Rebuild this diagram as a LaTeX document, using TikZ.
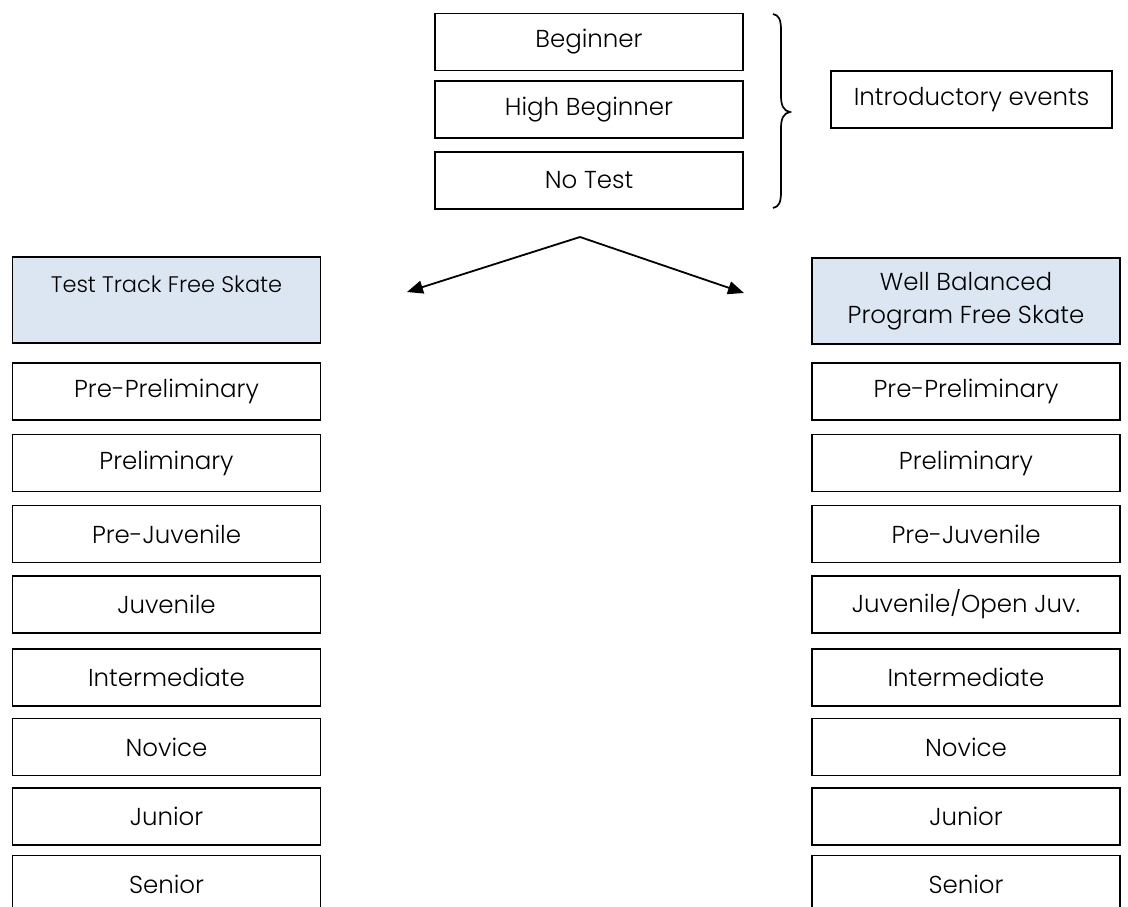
\documentclass[tikz,border=0pt]{standalone}
\usepackage{fontspec}
\setmainfont{Poppins}[UprightFont={* Light}]
\usetikzlibrary{arrows.meta}
\definecolor{hdrfill}{HTML}{DCE6F2}
\tikzset{
  box/.style={draw=black, line width=1.6pt, minimum width=308pt, minimum height=57pt, inner sep=0pt, font=\fontsize{24.5}{29}\selectfont},
  hdr/.style={box, fill=hdrfill, minimum height=86pt},
  arr/.style={line width=1.8pt, -{Triangle[length=16pt,width=13pt]}}
}
\begin{document}
\begin{tikzpicture}[x=1pt,y=-1pt]
\clip (0,0) rectangle (1128,907);
\useasboundingbox (0,0) rectangle (1128,907);
% introductory
\node[box] (beg) at (589,42) {Beginner};
\node[box] (hbeg) at (589,109.5) {High Beginner};
\node[box] (nt) at (589,180.5) {No Test};
\node[box, minimum width=281pt] (intro) at (971.5,99.5) {Introductory events};
\draw[line width=1.7pt] (773,14) .. controls (779,15) and (781,20) .. (781,30)
  -- (781,96) .. controls (781,106) and (784,111) .. (790,112)
  .. controls (784,113) and (781,118) .. (781,128)
  -- (781,192) .. controls (781,202) and (779,207) .. (773,208);
% arrows
\coordinate (apex) at (580,237);
\coordinate (lt) at (407,292);
\coordinate (rt) at (744,293);
\draw[arr] (apex) -- (lt);
\draw[arr] (apex) -- (rt);
% headers
\node[hdr] (ttfs) at (166.5,300) {};
\node[font=\fontsize{22.5}{27}\selectfont, anchor=center] (ttfst) at (166.5,284) {Test Track Free Skate};
\node[hdr, align=center, font=\fontsize{24.5}{33}\selectfont] (wbp) at (966,301) {Well Balanced\\Program Free Skate};
% left column
\node[box] (l1) at (166.5,391.5) {Pre-Preliminary};
\node[box] (l2) at (166.5,463) {Preliminary};
\node[box] (l3) at (166.5,534) {Pre-Juvenile};
\node[box] (l4) at (166.5,604.5) {Juvenile};
\node[box] (l5) at (166.5,677.5) {Intermediate};
\node[box] (l6) at (166.5,747) {Novice};
\node[box] (l7) at (166.5,816.5) {Junior};
\node[box] (l8) at (166.5,884) {Senior};
% right column
\node[box] (r1) at (966,391.5) {Pre-Preliminary};
\node[box] (r2) at (966,463) {Preliminary};
\node[box] (r3) at (966,534) {Pre-Juvenile};
\node[box] (r4) at (966,604.5) {Juvenile/Open Juv.};
\node[box] (r5) at (966,677.5) {Intermediate};
\node[box] (r6) at (966,747) {Novice};
\node[box] (r7) at (966,816.5) {Junior};
\node[box] (r8) at (966,884) {Senior};
\end{tikzpicture}
\end{document}
